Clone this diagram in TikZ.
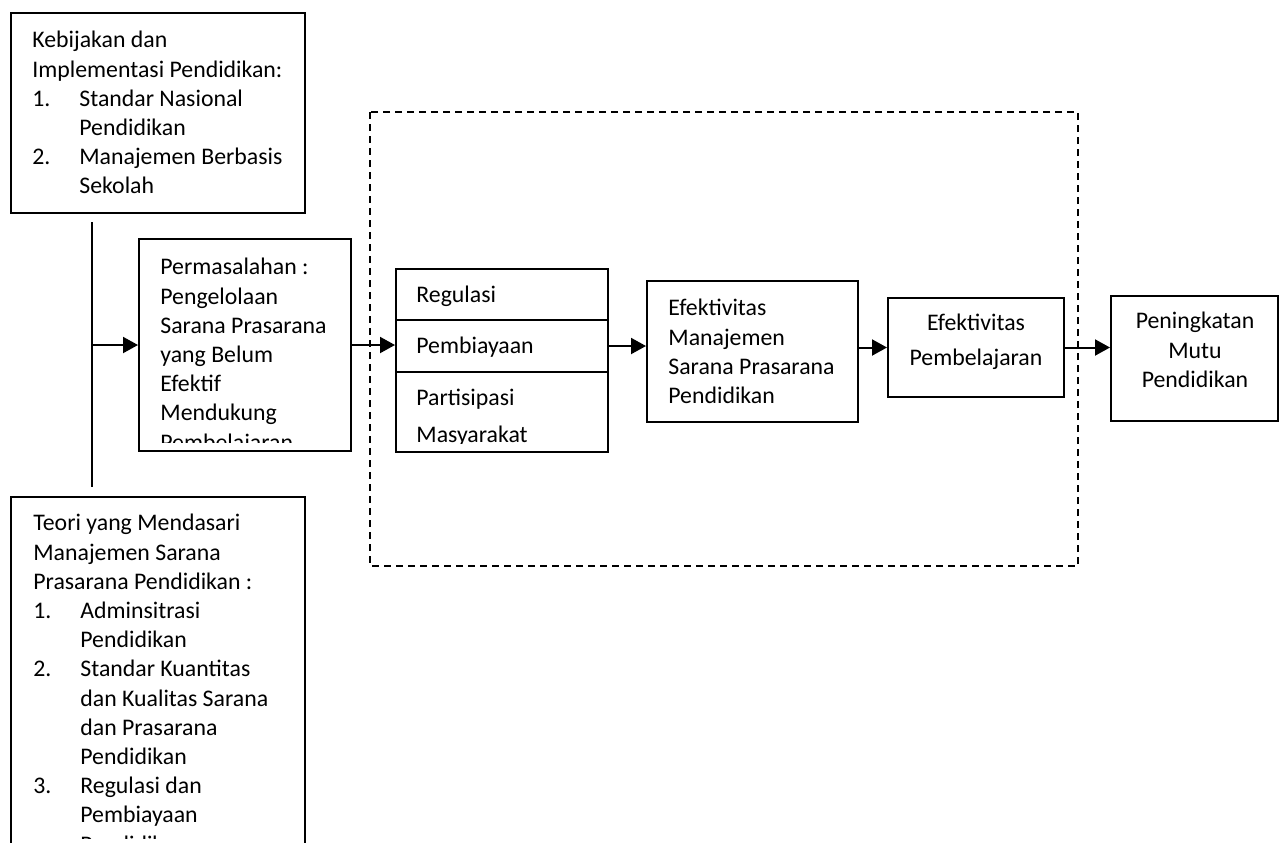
\documentclass[tikz,border=0pt]{standalone}
\usepackage{fontspec}
\setmainfont{Carlito}
\usetikzlibrary{arrows.meta}
\newcommand\bodyfont{\fontsize{11.9}{14.6}\selectfont}
\newcommand\firstline{\rule{0pt}{9.2pt}}
\newcommand\numitem[1]{\makebox[23.5pt][l]{#1}}
\newcommand\numpad{\hspace*{23.5pt}}
\begin{document}
\begin{tikzpicture}[x=0.5pt, y=-0.5pt]
\tikzstyle{box}=[draw, line width=1pt, inner sep=0pt]
\tikzstyle{txt}=[inner sep=0pt, font=\bodyfont, align=left, anchor=north west]
\tikzstyle{arr}=[line width=1pt, -{Triangle[length=7.5pt,width=8pt]}]
\useasboundingbox (0,0) rectangle (1284,842);

\node(keb)[box, minimum width=147pt, minimum height=100pt]   at (158, 113) {};
\node(per)[box, minimum width=106pt, minimum height=106pt]   at (245, 345) {};
\node(teo)[box, minimum width=147pt, minimum height=201.5pt] at (158, 698.5) {};
\node(reg)[box, minimum width=106pt, minimum height=25.5pt]  at (502, 294.5) {};
\node(bia)[box, minimum width=106pt, minimum height=26pt]    at (502, 346) {};
\node(par)[box, minimum width=106pt, minimum height=40pt]    at (502, 412) {};
\node(man)[box, minimum width=105.5pt, minimum height=70.5pt] at (752.5, 351.5) {};
\node(pem)[box, minimum width=88pt, minimum height=49.5pt]   at (976, 347.5) {};
\node(pen)[box, minimum width=83.5pt, minimum height=62.5pt] at (1194.5, 358.5) {};

\draw[line width=1pt, dash pattern=on 3.5pt off 2.5pt] (370, 112) rectangle (1078, 566);

\node(tkeb)[txt] at (32, 29) {\firstline Kebijakan dan\\Implementasi Pendidikan:\\
  \numitem{1.}Standar Nasional\\\numpad Pendidikan\\
  \numitem{2.}Manajemen Berbasis\\\numpad Sekolah};
\begin{scope}
\clip (139, 239) rectangle (351, 442);
\node(tper)[txt] at (160, 256) {\firstline Permasalahan :\\Pengelolaan\\Sarana Prasarana\\yang Belum\\Efektif\\Mendukung\\Pembelajaran};
\end{scope}
\begin{scope}
\clip (11, 497) rectangle (305, 838);
\node(tteo)[txt] at (33, 512) {\firstline Teori yang Mendasari\\Manajemen Sarana\\Prasarana Pendidikan :\\
  \numitem{1.}Adminsitrasi\\\numpad Pendidikan\\
  \numitem{2.}Standar Kuantitas\\\numpad dan Kualitas Sarana\\\numpad dan Prasarana\\\numpad Pendidikan\\
  \numitem{3.}Regulasi dan\\\numpad Pembiayaan\\\numpad Pendidikan};
\end{scope}
\node(treg)[txt] at (416, 284) {\firstline Regulasi};
\node(tbia)[txt] at (416, 335) {\firstline Pembiayaan};
\begin{scope}
\clip (396, 372) rectangle (608, 443);
\node(tpar)[txt] at (416, 387) {\firstline Partisipasi\\[3.9pt]Masyarakat};
\end{scope}
\node(tman)[txt] at (668, 297) {\firstline Efektivitas\\Manajemen\\Sarana Prasarana\\Pendidikan};
\node(tpem)[txt, align=center, anchor=north] at (976, 312) {\firstline Efektivitas\\[2.9pt]Pembelajaran};
\node(tpen)[txt, align=center, anchor=north] at (1195, 310) {\firstline Peningkatan\\Mutu\\Pendidikan};

\coordinate(vtop) at (92, 222);
\coordinate(vbot) at (92, 487);
\draw[line width=1.2pt] (vtop) -- (vbot);
\draw[arr] (vtop |- per) -- (per);
\draw[arr] (per) -- (per -| bia.west);
\draw[arr] (bia.east) -- (bia.east -| man.west);
\draw[arr] (man.east |- pem) -- (pem);
\draw[arr] (pem) -- (pem -| pen.west);

\end{tikzpicture}
\end{document}
